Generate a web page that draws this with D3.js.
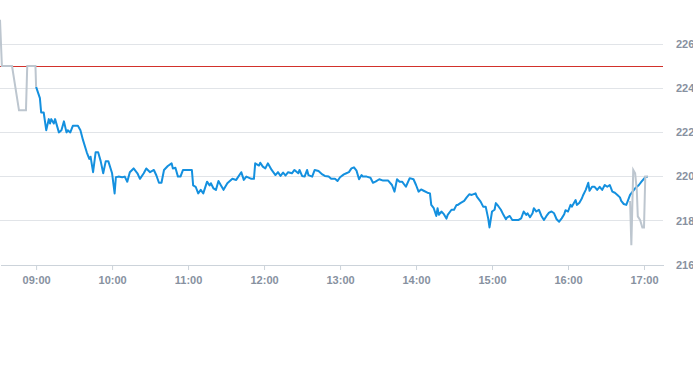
<!DOCTYPE html>
<meta charset="utf-8">
<style>
body { margin: 0; background: #fff; }
.axis text { font-family: "Liberation Sans", Arial, sans-serif; font-size: 11px; font-weight: bold; fill: #8791a0; }
</style>
<body>
<script src="https://d3js.org/d3.v7.min.js"></script>
<script>

// minutes since 09:00 and prices
const preMinutes = [-28.5, -27, -19, -13.5, -8, -7, -0.5, 0];
const preValues  = [227.1, 225, 225, 223, 223, 225, 225, 224.06];

const dayMinutes = [0, 3, 4, 6, 8, 10, 11, 12, 14, 15, 18, 20, 22, 24, 25, 27, 29, 33, 35, 37,
  40, 42, 43, 45, 47, 49, 51, 53, 55, 57, 60, 62, 63, 65, 68, 70, 72, 74, 77, 80,
  82, 85, 87, 90, 93, 95, 97, 99, 101, 104, 107, 108, 110, 112, 114, 116, 119, 123, 124, 126,
  128, 130, 132, 135, 137, 138, 140, 142, 144, 146, 148, 151, 155, 158, 162, 164, 166, 170, 172, 173,
  176, 177, 179, 181, 183, 186, 189, 191, 193, 195, 197, 199, 202, 204, 207, 208, 210, 212, 214, 215,
  218, 220, 223, 226, 228, 231, 233, 236, 238, 240, 243, 245, 247, 249, 251, 253, 255, 257, 258, 261,
  264, 266, 268, 271, 274, 278, 281, 283, 285, 287, 289, 292, 295, 298, 300, 302, 304, 306, 309, 311,
  312, 314, 316, 317, 318, 320, 322, 324, 325, 328, 330, 332, 333, 335, 338, 340, 342, 344, 347, 348,
  351, 353, 355, 357, 358, 360, 362, 363, 365, 367, 369, 371, 372, 374, 376, 378, 381, 383, 385, 387,
  388, 390, 392, 393, 395, 397, 399, 401, 403, 405, 407, 409, 411, 413, 415, 417, 418, 420, 422, 423,
  426, 427, 429, 431, 432, 434, 436, 437, 439, 441, 443, 445, 447, 449, 451, 453, 455, 457, 459, 461,
  462, 464, 466, 467, 469, 471, 473, 476, 478, 481, 483];
const dayValues = [224.06, 223.55, 222.9, 222.9, 222.1, 222.6, 222.4, 222.6, 222.4, 222.6, 222.0, 222.1, 222.5, 222.0, 222.1, 222.0, 222.3, 222.3, 222.1, 221.66,
  221.1, 220.8, 220.9, 220.2, 221.1, 221.1, 220.7, 220.15, 220.7, 220.7, 220.15, 219.24, 219.97, 220.0, 219.97, 220.0, 219.77, 220.2, 220.37, 220.15,
  219.9, 220.15, 220.37, 220.2, 220.3, 220.05, 219.72, 219.72, 220.3, 220.48, 220.6, 220.37, 220.4, 220.0, 220.0, 220.3, 220.3, 220.3, 219.6, 219.54,
  219.24, 219.4, 219.24, 219.77, 219.6, 219.7, 219.47, 219.4, 219.8, 219.6, 219.4, 219.7, 219.9, 219.85, 220.2, 219.85, 220.0, 219.9, 219.9, 220.6,
  220.5, 220.63, 220.45, 220.37, 220.6, 220.3, 220.07, 220.2, 220.03, 220.18, 220.05, 220.2, 220.15, 220.3, 220.15, 220.3, 220.03, 220.0, 220.3, 220.07,
  220.0, 220.3, 220.25, 220.1, 220.03, 220.0, 219.9, 219.9, 219.8, 219.97, 220.1, 220.15, 220.2, 220.37, 220.42, 220.27, 219.88, 220.07, 220.0, 220.0,
  219.95, 219.72, 219.77, 219.88, 219.82, 219.82, 219.62, 219.32, 219.88, 219.77, 219.77, 219.54, 219.93, 219.88, 219.62, 219.32, 219.42, 219.36, 219.27, 219.24,
  218.72, 218.57, 218.22, 218.57, 218.27, 218.42, 218.3, 218.1, 218.27, 218.5, 218.5, 218.72, 218.72, 218.8, 218.9, 219.06, 219.2, 219.17, 219.24, 219.09,
  218.87, 218.64, 218.64, 218.1, 217.7, 218.42, 218.5, 218.8, 218.66, 218.5, 218.27, 218.07, 218.16, 218.22, 218.04, 218.04, 218.04, 218.11, 218.42, 218.27,
  218.34, 218.16, 218.34, 218.57, 218.42, 218.5, 218.22, 218.04, 218.22, 218.37, 218.42, 218.34, 218.07, 217.96, 218.11, 218.3, 218.48, 218.42, 218.72, 218.64,
  218.94, 218.72, 218.82, 219.02, 219.17, 219.4, 219.72, 219.36, 219.54, 219.54, 219.4, 219.54, 219.4, 219.62, 219.54, 219.62, 219.32, 219.27, 219.17, 219.06,
  218.9, 218.76, 218.72, 218.87, 219.17, 219.32, 219.47, 219.62, 219.77, 219.97, 220.0];

const postMinutes = [469, 470, 471.5, 473, 474.3, 475.1, 476.9, 478.7, 480, 481, 483];
const postValues  = [218.9, 216.9, 220.3, 220.15, 219.4, 218.2, 218.04, 217.7, 217.7, 220.0, 220.0];

const refPrice = 225;
const yTicks = [216, 218, 220, 222, 224, 226];

const width = 693, height = 365;
const plot = { left: 0, right: 663, top: 44, bottom: 265 };

const t = m => new Date(2020, 0, 2, 9, 0, m * 60);
const toPoints = (ms, vs) => ms.map((m, i) => ({ time: t(m), value: vs[i] }));

const x = d3.scaleTime()
  .domain([t(-28.5), t(495)])
  .range([plot.left, plot.right]);

const y = d3.scaleLinear()
  .domain([216, 226])
  .range([plot.bottom, plot.top]);

const svg = d3.select("body").append("svg")
  .attr("width", width)
  .attr("height", height);

// horizontal grid
svg.append("g")
  .selectAll("line")
  .data(yTicks.slice(1))
  .join("line")
  .attr("x1", plot.left).attr("x2", plot.right)
  .attr("y1", d => y(d)).attr("y2", d => y(d))
  .attr("stroke", "#e1e4e8")
  .attr("stroke-width", 1)
  .attr("shape-rendering", "crispEdges");

// y labels on the right
svg.append("g")
  .attr("class", "axis")
  .selectAll("text")
  .data(yTicks)
  .join("text")
  .attr("x", 676)
  .attr("y", d => y(d))
  .attr("dy", "0.35em")
  .text(d => d);

// x axis
const xAxis = d3.axisBottom(x)
  .ticks(d3.timeHour.every(1))
  .tickFormat(d3.timeFormat("%H:%M"))
  .tickSize(5)
  .tickSizeOuter(0)
  .tickPadding(6);

const gx = svg.append("g")
  .attr("class", "axis")
  .attr("transform", `translate(0,${plot.bottom})`)
  .call(xAxis);
gx.select(".domain").attr("stroke", "#ccd3da").attr("shape-rendering", "crispEdges");
gx.selectAll(".tick line").attr("stroke", "#ccd3da");

// reference line
svg.append("line")
  .attr("x1", plot.left).attr("x2", plot.right)
  .attr("y1", y(refPrice)).attr("y2", y(refPrice))
  .attr("stroke", "#d2312b")
  .attr("stroke-width", 1)
  .attr("shape-rendering", "crispEdges");

const line = d3.line()
  .x(d => x(d.time))
  .y(d => y(d.value));

svg.append("path")
  .datum(toPoints(dayMinutes, dayValues))
  .attr("fill", "none")
  .attr("stroke", "#1490df")
  .attr("stroke-width", 2)
  .attr("stroke-linejoin", "round")
  .attr("d", line);

svg.append("path")
  .datum(toPoints(preMinutes, preValues))
  .attr("fill", "none")
  .attr("stroke", "#bdc6cf")
  .attr("stroke-width", 2)
  .attr("d", line);

svg.append("path")
  .datum(toPoints(postMinutes, postValues))
  .attr("fill", "none")
  .attr("stroke", "#bdc6cf")
  .attr("stroke-width", 2)
  .attr("d", line);

</script>
</body>
